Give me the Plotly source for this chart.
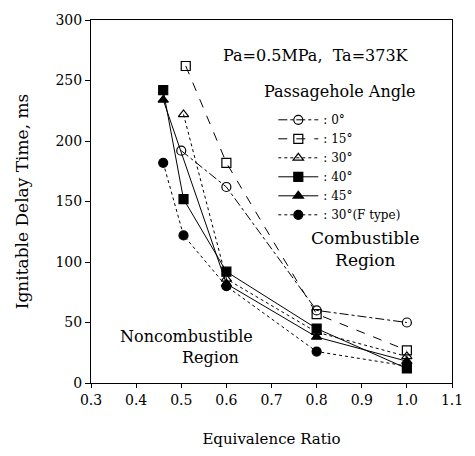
import plotly.graph_objects as go

# ---- data ----
labels = [": 0°", ": 15°", ": 30°", ": 40°", ": 45°", ": 30°(F type)"]
phi_0 = [0.50, 0.60, 0.80, 1.00]
t_0 = [192, 162, 60, 50]
phi_15 = [0.51, 0.60, 0.80, 1.00]
t_15 = [262, 182, 57, 27]
phi_30 = [0.505, 0.60, 0.80, 1.00]
t_30 = [222, 86, 42, 22]
phi_40 = [0.46, 0.505, 0.60, 0.80, 1.00]
t_40 = [242, 152, 92, 45, 12]
phi_45 = [0.46, 0.60, 0.80, 1.00]
t_45 = [234, 82, 38, 18]
phi_30f = [0.46, 0.505, 0.60, 0.80, 1.00]
t_30f = [182, 122, 80, 26, 14]

x_ticks = [0.3, 0.4, 0.5, 0.6, 0.7, 0.8, 0.9, 1.0, 1.1]
x_ticktext = ["0.3", "0.4", "0.5", "0.6", "0.7", "0.8", "0.9", "1.0", "1.1"]
y_ticks = [0, 50, 100, 150, 200, 250, 300]

series = [
    (phi_0, t_0, labels[0], "circle-open", "dashdot"),
    (phi_15, t_15, labels[1], "square-open", "dash"),
    (phi_30, t_30, labels[2], "triangle-up-open", "dot"),
    (phi_40, t_40, labels[3], "square", "solid"),
    (phi_45, t_45, labels[4], "triangle-up", "solid"),
    (phi_30f, t_30f, labels[5], "circle", "dot"),
]

FONT = "DejaVu Serif"
fig = go.Figure()
for xs, ys, name, sym, dash in series:
    fig.add_trace(go.Scatter(
        x=xs, y=ys, name=name, mode="lines+markers",
        line=dict(color="black", width=1, dash=dash),
        marker=dict(symbol=sym, size=9, color="black",
                    line=dict(color="black", width=1.2)),
    ))

fig.update_layout(
    width=475, height=456,
    margin=dict(l=91, r=18, t=17, b=69),
    paper_bgcolor="white", plot_bgcolor="white",
    font=dict(family=FONT, size=12, color="black"),
    showlegend=True,
    legend=dict(
        x=0.505, y=0.765, xanchor="left", yanchor="top",
        bgcolor="rgba(0,0,0,0)",
        font=dict(family=FONT, size=12),
        tracegroupgap=0, itemwidth=40,
    ),
    xaxis=dict(
        range=[0.3, 1.1], tickvals=x_ticks, ticktext=x_ticktext,
        showgrid=False, zeroline=False, showline=True, linecolor="black",
        linewidth=1, mirror=True, ticks="outside", ticklen=4, tickcolor="black",
        tickfont=dict(family=FONT, size=14),
        title=dict(text="Equivalence Ratio", font=dict(family=FONT, size=15), standoff=26),
    ),
    yaxis=dict(
        range=[0, 300], tickvals=y_ticks,
        showgrid=False, zeroline=False, showline=True, linecolor="black",
        linewidth=1, mirror=True, ticks="outside", ticklen=5, tickcolor="black",
        tickfont=dict(family=FONT, size=14),
        title=dict(text="Ignitable Delay Time, ms", font=dict(family=FONT, size=17), standoff=22),
    ),
)

fig.add_annotation(text="Pa=0.5MPa,  Ta=373K", x=0.623, y=0.903, xref="paper", yref="paper",
                   xanchor="center", yanchor="middle",
                   showarrow=False, font=dict(family=FONT, size=16))
fig.add_annotation(text="Passagehole Angle", x=0.689, y=0.803, xref="paper", yref="paper",
                   xanchor="center", yanchor="middle",
                   showarrow=False, font=dict(family=FONT, size=16))
fig.add_annotation(text="Combustible<br>Region", x=0.76, y=0.368, xref="paper", yref="paper",
                   xanchor="center", yanchor="middle",
                   showarrow=False, font=dict(family=FONT, size=17))
fig.add_annotation(text="Noncombustible", x=0.264, y=0.127, xref="paper", yref="paper",
                   xanchor="center", yanchor="middle",
                   showarrow=False, font=dict(family=FONT, size=16))
fig.add_annotation(text="Region", x=0.33, y=0.071, xref="paper", yref="paper",
                   xanchor="center", yanchor="middle",
                   showarrow=False, font=dict(family=FONT, size=16))

fig.write_html("out.html")
